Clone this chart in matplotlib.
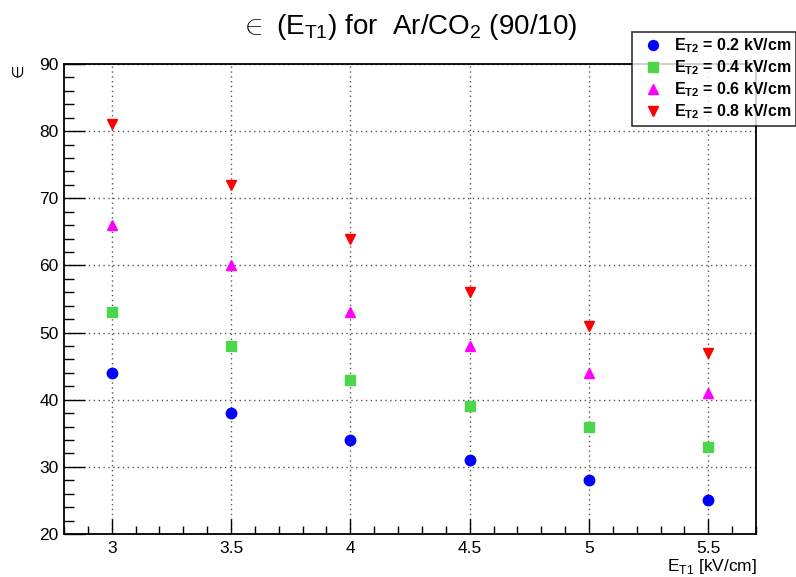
import matplotlib
matplotlib.use("Agg")
import matplotlib.pyplot as plt
from matplotlib.ticker import MultipleLocator, FormatStrFormatter

plt.rcParams['font.family'] = ['Liberation Sans', 'DejaVu Sans']
plt.rcParams['mathtext.fontset'] = 'custom'
plt.rcParams['mathtext.rm'] = 'Liberation Sans'
plt.rcParams['mathtext.bf'] = 'Liberation Sans:bold'

# DATA
e_t1 = [3, 3.5, 4, 4.5, 5, 5.5]
eps_02 = [44, 38, 34, 31, 28, 25]
eps_04 = [53, 48, 43, 39, 36, 33]
eps_06 = [66, 60, 53, 48, 44, 41]
eps_08 = [81, 72, 64, 56, 51, 47]
labels = [r"$\mathbf{E_{T2}}$ = 0.2 kV/cm", r"$\mathbf{E_{T2}}$ = 0.4 kV/cm",
          r"$\mathbf{E_{T2}}$ = 0.6 kV/cm", r"$\mathbf{E_{T2}}$ = 0.8 kV/cm"]

fig = plt.figure(figsize=(7.96, 5.77), dpi=100)
ax = fig.add_axes([64/796, 1 - 534/577, (756-64)/796, (534-64)/577])

series = [eps_02, eps_04, eps_06, eps_08]
styles = [("o", "#0000ff", 7.5), ("s", "#4cd64c", 7), ("^", "#ff00ff", 7.5), ("v", "#ff0000", 7.5)]
for ys, (m, c, s), lab in zip(series, styles, labels):
    ax.plot(e_t1, ys, linestyle="none", marker=m, color=c, markersize=s, label=lab)

ax.set_xlim(2.8, 5.7)
ax.set_ylim(20, 90)
ax.xaxis.set_major_locator(MultipleLocator(0.5))
ax.xaxis.set_minor_locator(MultipleLocator(0.1))
ax.xaxis.set_major_formatter(FormatStrFormatter("%g"))
ax.yaxis.set_major_locator(MultipleLocator(10))
ax.yaxis.set_minor_locator(MultipleLocator(2))
ax.tick_params(which="both", direction="in", top=False, right=False, labelsize=12.5, width=1)
ax.tick_params(axis="x", which="major", length=11, pad=5)
ax.tick_params(axis="x", which="minor", length=5.5)
ax.tick_params(axis="y", which="major", length=15, pad=4)
ax.tick_params(axis="y", which="minor", length=7.5)
ax.grid(True, which="major", linestyle=(0, (1, 2.5)), color="#555555", linewidth=1)
ax.set_axisbelow(True)
for sp in ax.spines.values():
    sp.set_linewidth(1.3)

fig.text(408/796, 1 - 27/577, r"$\in$ (E$_{\mathregular{T1}}$) for  Ar/CO$_{\mathregular{2}}$ (90/10)",
         fontsize=20, ha="center", va="center")
fig.text(19/796, 1 - 70/577, "\u2208", rotation=90, fontsize=11, ha="center", va="center")
fig.text(757/796, 1 - 566/577, "E$_{\\mathregular{T1}}$ [kV/cm]", fontsize=12.5, ha="right", va="center")

leg = fig.legend(loc="upper right", bbox_to_anchor=(1.0, 1 - 32/577),
                 frameon=True, fancybox=False, edgecolor="black", borderpad=0.3,
                 handletextpad=0.3, labelspacing=0.2, borderaxespad=0, markerscale=0.95,
                 prop={'weight': 'bold', 'size': 11.5})
leg.get_frame().set_linewidth(1.2)

fig.savefig("out.png", dpi=100)
